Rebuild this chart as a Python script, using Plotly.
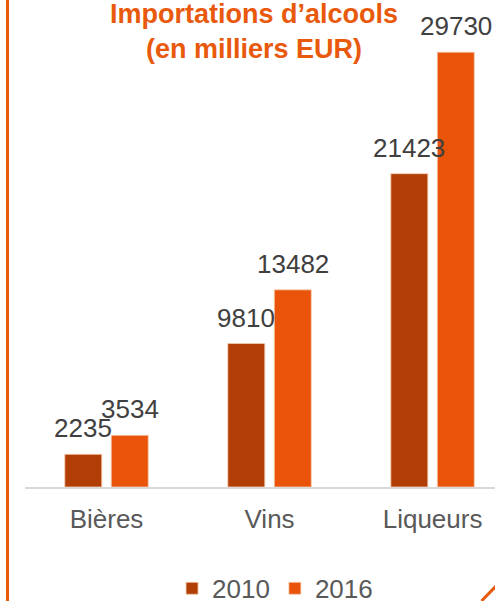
import plotly.graph_objects as go

categories = ["Bières", "Vins", "Liqueurs"]
series_names = ["2010", "2016"]
values_2010 = [2235, 9810, 21423]
values_2016 = [3534, 13482, 29730]
colors = ["#B13E05", "#E9540A"]

FONT = "Liberation Sans, Arial, sans-serif"

fig = go.Figure()
for name, vals, col in zip(series_names, [values_2010, values_2016], colors):
    fig.add_trace(go.Bar(
        name=name, x=categories, y=vals,
        marker=dict(color=col, line=dict(color="#F7CDB0", width=0.8)),
        hoverinfo="skip",
    ))

annotations = []
shift = [-23.25, 23.25]
for i, vals in enumerate([values_2010, values_2016]):
    for c, v in zip(categories, vals):
        annotations.append(dict(
            x=c, y=v, xref="x", yref="y", text=str(v), showarrow=False,
            xanchor="center", yanchor="bottom", xshift=shift[i], yshift=9,
            font=dict(family=FONT, size=26, color="#404040"),
        ))

fig.update_layout(
    width=495, height=601,
    margin=dict(l=25, r=0, t=19, b=114),
    paper_bgcolor="white", plot_bgcolor="white",
    barmode="group", bargap=0.43, bargroupgap=0.204,
    title=dict(
        text="<b>Importations d’alcools<br>(en milliers EUR)</b>",
        x=0.513, xref="container", xanchor="center",
        y=0.962, yref="container", yanchor="top",
        font=dict(family=FONT, size=27, color="#E9590C"),
    ),
    xaxis=dict(
        range=[-0.5, 2.383], showgrid=False, showline=True,
        linecolor="#D9D9D9", linewidth=1.5, ticks="",
        tickfont=dict(family=FONT, size=26, color="#595959"),
        ticklabelstandoff=8,
    ),
    yaxis=dict(range=[0, 32000], visible=False, showgrid=False),
    legend=dict(
        orientation="h", x=0.532, xanchor="center",
        y=0.021, yref="container", yanchor="middle",
        font=dict(family=FONT, size=26, color="#595959"),
        itemwidth=30, bgcolor="rgba(0,0,0,0)",
    ),
    annotations=annotations,
    shapes=[
        dict(type="line", xref="paper", yref="paper",
             x0=-0.0372, x1=-0.0372, y0=-0.3, y1=1.1,
             line=dict(color="#E9590C", width=3)),
        dict(type="line", xref="paper", yref="paper",
             x0=(481.5 - 25) / 470, y0=-(601 - 487) / 468,
             x1=(496 - 25) / 470, y1=-(586 - 487) / 468,
             line=dict(color="#E9590C", width=3)),
    ],
)

fig.write_html(
    "out.html",
    config={"displayModeBar": False, "staticPlot": True},
    post_script="document.body.style.margin='0';document.body.style.overflow='hidden';window.scrollTo(0,0);",
)
